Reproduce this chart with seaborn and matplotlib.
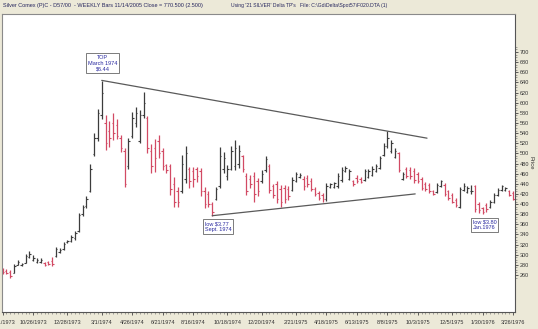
import numpy as np
import pandas as pd
import matplotlib
matplotlib.use("Agg")
import matplotlib.pyplot as plt
import seaborn as sns
from matplotlib.ticker import FixedLocator

sns.set_style("white")
plt.rcParams['font.family'] = ['Liberation Sans', 'DejaVu Sans']

# ---- data (weekly bars, price in cents) ----
weeks = list(range(135))
highs = [273, 272, 269, 281, 290, 283, 301, 308, 300, 293,
         294, 286, 288, 296, 316, 314, 325, 330, 339, 346,
         382, 398, 416, 480, 540, 587, 642, 575, 563, 580,
         567, 536, 511, 530, 582, 592, 586, 622, 574, 519,
         528, 536, 511, 480, 480, 454, 434, 497, 515, 474,
         474, 474, 471, 434, 425, 405, 434, 512, 503, 477,
         515, 526, 517, 497, 461, 457, 464, 451, 467, 494,
         479, 440, 446, 438, 438, 436, 454, 464, 462, 455,
         457, 451, 433, 425, 421, 441, 442, 444, 462, 473,
         475, 469, 448, 457, 454, 469, 469, 475, 479, 494,
         520, 544, 526, 510, 503, 464, 474, 474, 471, 464,
         454, 444, 441, 428, 442, 448, 441, 428, 421, 411,
         434, 441, 436, 438, 438, 405, 395, 402, 408, 421,
         431, 438, 434, 428, 425]
lows = [262, 262, 254, 263, 279, 277, 283, 293, 288, 283,
        284, 277, 280, 277, 295, 303, 310, 324, 326, 329,
        344, 376, 392, 424, 495, 524, 568, 507, 513, 526,
        528, 503, 433, 470, 530, 553, 520, 569, 500, 461,
        464, 490, 467, 461, 418, 395, 395, 421, 441, 431,
        434, 444, 415, 392, 395, 377, 408, 431, 461, 448,
        467, 467, 471, 464, 418, 431, 405, 415, 441, 464,
        421, 411, 402, 395, 402, 408, 425, 444, 451, 428,
        434, 425, 416, 408, 405, 407, 431, 431, 431, 444,
        464, 448, 436, 442, 442, 446, 451, 455, 464, 469,
        494, 510, 500, 490, 464, 448, 451, 449, 441, 441,
        428, 425, 421, 418, 421, 434, 415, 408, 402, 395,
        392, 425, 421, 420, 385, 382, 380, 385, 392, 403,
        415, 425, 425, 415, 408]
opens = [270, 268, 265, 264, 280, 279, 284, 296, 290, 285,
         286, 284, 286, 287, 297, 305, 311, 325, 327, 333,
         346, 380, 396, 426, 498, 530, 575, 560, 545, 560,
         555, 530, 505, 475, 535, 560, 525, 575, 570, 505,
         510, 525, 505, 478, 475, 440, 425, 425, 450, 470,
         465, 470, 465, 425, 420, 400, 410, 435, 470, 455,
         470, 475, 480, 495, 455, 450, 455, 445, 445, 468,
         475, 435, 440, 430, 432, 430, 428, 446, 453, 450,
         452, 445, 430, 422, 418, 410, 433, 433, 435, 448,
         466, 450, 445, 452, 450, 448, 453, 458, 466, 472,
         496, 515, 505, 492, 500, 450, 470, 468, 465, 460,
         450, 440, 438, 426, 423, 436, 438, 425, 418, 408,
         395, 428, 424, 425, 435, 400, 392, 398, 394, 405,
         418, 427, 428, 425, 422]
closes = [265, 264, 258, 278, 285, 281, 298, 302, 294, 290,
          289, 279, 282, 281, 312, 309, 322, 328, 335, 343,
          378, 395, 410, 470, 530, 580, 620, 520, 530, 540,
          535, 510, 440, 525, 570, 580, 575, 600, 510, 475,
          490, 500, 475, 468, 430, 405, 405, 480, 500, 445,
          450, 455, 425, 400, 400, 385, 430, 495, 490, 470,
          505, 510, 505, 470, 425, 440, 420, 425, 460, 488,
          428, 418, 410, 405, 410, 415, 448, 460, 458, 435,
          440, 430, 420, 412, 410, 435, 440, 441, 455, 468,
          472, 465, 439, 445, 444, 465, 465, 470, 475, 490,
          515, 530, 520, 505, 468, 460, 455, 455, 448, 445,
          432, 430, 425, 420, 438, 445, 420, 412, 405, 398,
          430, 436, 432, 426, 390, 388, 385, 390, 405, 418,
          428, 435, 432, 418, 410]

tick_weeks = [0, 8, 17, 26, 34, 42, 50, 59, 68, 77, 85, 93, 101, 109, 118, 126, 134]
tick_labels = ['8/31/1973', '10/26/1973', '12/28/1973', '3/1/1974', '4/26/1974',
               '6/21/1974', '8/16/1974', '10/18/1974', '12/20/1974', '2/21/1975',
               '4/18/1975', '6/13/1975', '8/8/1975', '10/3/1975', '12/5/1975',
               '1/30/1976', '3/26/1976']
price_ticks = list(range(260, 701, 20))

# trend lines (resistance from the March 1974 top, support from the Sept 1974 low)
trend_line = ['upper', 'upper', 'lower', 'lower']
trend_week = [26, 111.4, 55, 108.3]
trend_price = [644, 530, 377, 420]

df = pd.DataFrame({'week': weeks, 'high': highs, 'low': lows,
                   'open': opens, 'close': closes})
df['up'] = df['close'] >= df['open']
trend_df = pd.DataFrame({'line': trend_line, 'week': trend_week, 'price': trend_price})

UP = '#3c3c3c'
DOWN = '#d24a64'
BG = '#ece9d8'

fig = plt.figure(figsize=(5.38, 3.29), dpi=100, facecolor=BG)
ax = fig.add_axes([2 / 538, 1 - 312 / 329, 513 / 538, 298 / 329])
ax.set_facecolor('white')

cols = np.where(df['up'], UP, DOWN)
x = df['week'].to_numpy(dtype=float)
ax.vlines(x, df['low'], df['high'], colors=cols, lw=0.9)
ax.hlines(df['open'], x - 0.38, x, colors=cols, lw=0.8)
ax.hlines(df['close'], x, x + 0.38, colors=cols, lw=0.8)

sns.lineplot(data=trend_df, x='week', y='price', units='line', estimator=None,
             color='#5a5a5a', lw=0.9, ax=ax, legend=False)

ax.set_xlim(-0.18, 134.5)
ax.set_ylim(187, 775)
ax.set_xlabel('')
ax.set_ylabel('')

ax.xaxis.set_major_locator(FixedLocator(tick_weeks))
ax.set_xticklabels(tick_labels)
ax.xaxis.set_minor_locator(FixedLocator(weeks))
ax.yaxis.tick_right()
ax.yaxis.set_major_locator(FixedLocator(price_ticks))
ax.set_yticklabels([str(p) for p in price_ticks])
ax.yaxis.set_minor_locator(FixedLocator(list(range(255, 711, 5))))

ax.tick_params(axis='both', which='major', labelsize=4.0, colors='#444444',
               labelcolor='#333333', length=2.2, width=0.6, direction='out')
ax.tick_params(axis='x', which='major', pad=3.5, bottom=True)
ax.tick_params(axis='y', which='major', pad=1.5, right=True, left=False)
ax.tick_params(axis='both', which='minor', length=1.1, width=0.4, colors='#666666')
ax.tick_params(axis='x', which='minor', bottom=True)
ax.tick_params(axis='y', which='minor', right=True, left=False)

for name, sp in ax.spines.items():
    sp.set_visible(True)
    sp.set_color('#8a8a8a')
    sp.set_linewidth(0.8)
ax.spines['right'].set_color('#555555')
ax.spines['bottom'].set_color('#555555')

# annotations
txt_col = '#2a2aa0'
box = dict(boxstyle='square,pad=0.35', fc='white', ec='#666666', lw=0.6)
ax.text(26.2, 678, 'TOP\nMarch 1974\n$6.44', ha='center', va='center', fontsize=4.0,
        color=txt_col, bbox=box, linespacing=1.15)
ax.text(53.0, 356, 'low $3.77\nSept. 1974', ha='left', va='center', fontsize=4.0,
        color=txt_col, bbox=box, linespacing=1.15)
ax.text(126.5, 359, 'low $3.80\nJan.1976', ha='center', va='center', fontsize=4.0,
        color=txt_col, bbox=box, linespacing=1.15)

# header
hc = '#26265e'
fig.text(3 / 538, 1 - 6 / 329, 'Silver Comex (P)C - D57/00  - WEEKLY Bars 11/14/2005 Close = 770.500 (2.500)',
         fontsize=4.0, color=hc, va='center', ha='left')
fig.text(231 / 538, 1 - 6 / 329, "Using '21 SILVER' Delta TP's", fontsize=3.6, color=hc,
         va='center', ha='left')
fig.text(300 / 538, 1 - 6 / 329, r'File: C:\Gd\Delta\Spot57\F020.DTA (1)', fontsize=3.7,
         color=hc, va='center', ha='left')
fig.text(531 / 538, 1 - 163 / 329, 'Price', rotation=270, fontsize=4.2, color='#333333',
         va='center', ha='center')

fig.savefig('out.png', dpi=100, facecolor=BG)
